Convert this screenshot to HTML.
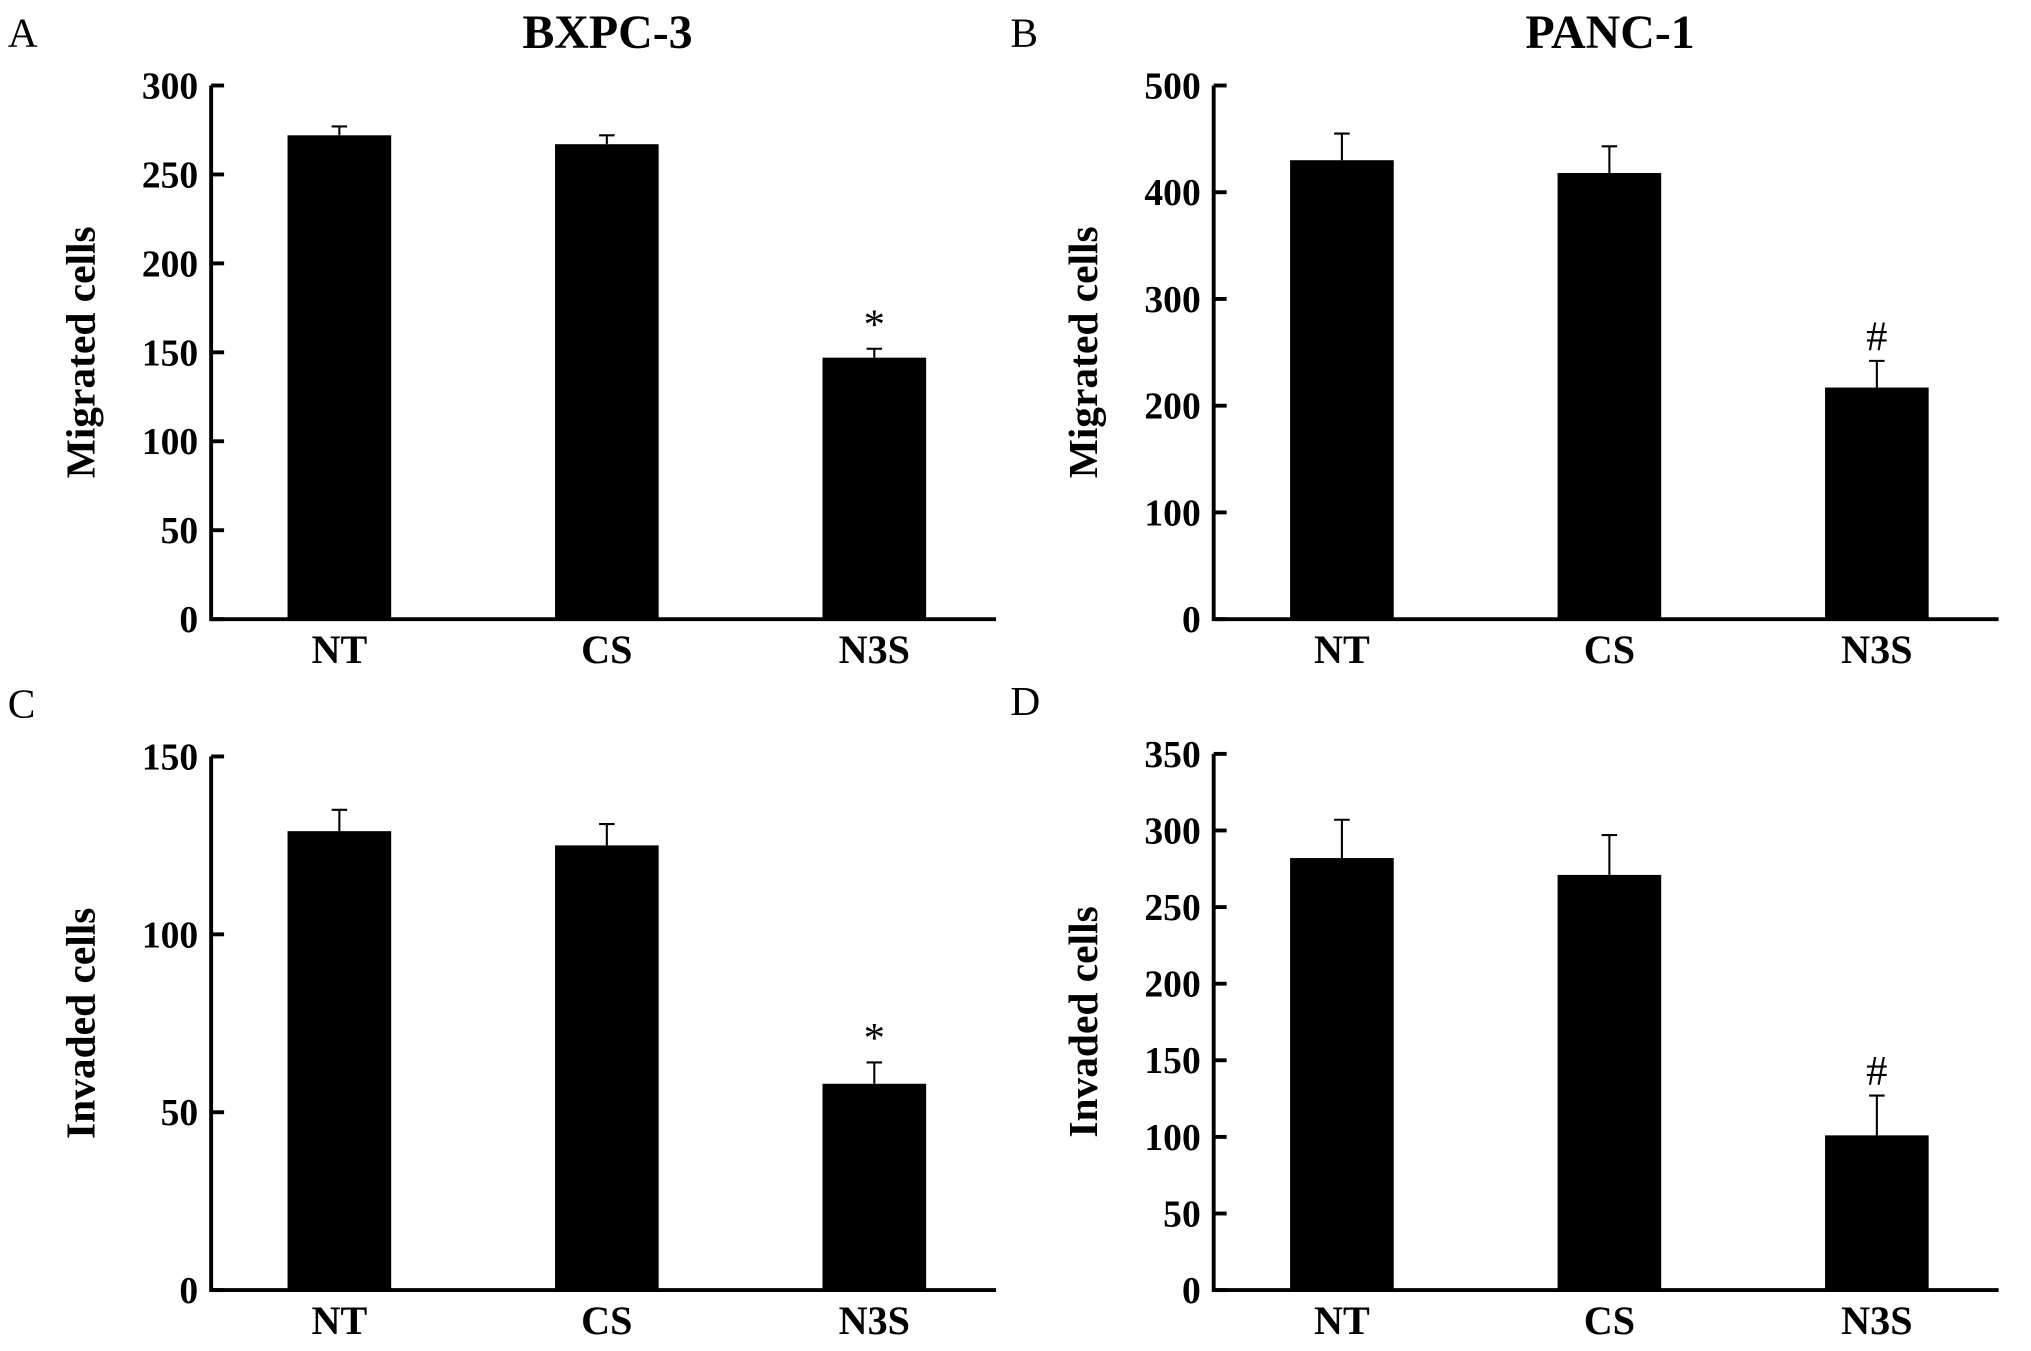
<!DOCTYPE html>
<html><head><meta charset="utf-8"><style>
html,body{margin:0;padding:0;background:#fff}
svg{display:block}
text{font-family:"Liberation Serif",serif;fill:#000}
</style></head><body>
<svg id="fig" width="2031" height="1351" viewBox="0 0 1568 1043">
</svg>
<script>
const categories = ["NT","CS","N3S"];
const valuesA = [272,267,147];
const errorsA = [5,5,5];
const valuesB = [430,418,217];
const errorsB = [25,25,25];
const valuesC = [129,125,58];
const errorsC = [6,6,6];
const valuesD = [282,271,101];
const errorsD = [25,26,26];
const ticksA = [0,50,100,150,200,250,300];
const ticksB = [0,100,200,300,400,500];
const ticksC = [0,50,100,150];
const ticksD = [0,50,100,150,200,250,300,350];
const marksA = ["","","*"];
const marksB = ["","","#"];

const NS="http://www.w3.org/2000/svg";
const svg=document.getElementById('fig');
function mk(tag,attrs,parent,txt){const e=document.createElementNS(NS,tag);for(const k in attrs)e.setAttribute(k,attrs[k]);if(txt!==undefined)e.textContent=txt;(parent||svg).appendChild(e);return e;}

function panel(id,ax,top,bottom,vals,errs,ticks,marks,letter,title,ylabel){
  const g=mk('g',{});
  
  
  const maxV=ticks[ticks.length-1];
  const y=v=>bottom-(v/maxV)*(bottom-top);
  const barW=80, first=ax+59, step=206.5;
  const bx=i=>first+i*step;
  vals.forEach((v,i)=>{
    const r=mk('rect',{x:bx(i),y:y(v),width:barW,height:bottom-y(v),fill:'#000'},g);
    
    
    const cx=bx(i)+barW/2, ye=y(v+errs[i]);
    const e=mk('path',{d:`M${cx} ${y(v)}V${ye}M${cx-6} ${ye}H${cx+6}`,stroke:'#000','stroke-width':1.6,fill:'none'},g);
    
    
    if(marks&&marks[i]){
      const t=mk('text',{x:cx,y:ye-8,'text-anchor':'middle','font-size':33},g,marks[i]);
      
      
    }
    const xl=mk('text',{x:cx,y:bottom+34,'text-anchor':'middle','font-size':31,'font-weight':'bold'},g,categories[i]);
    
    
  });
  const axl=mk('path',{d:`M${ax} ${top}V${bottom}H${ax+606}`,stroke:'#000','stroke-width':3,fill:'none'},g);
  
  
  ticks.forEach(t=>{
    mk('line',{x1:ax,x2:ax+10,y1:y(t),y2:y(t),stroke:'#000','stroke-width':3},g);
    const tl=mk('text',{x:ax-10,y:y(t)+10,'text-anchor':'end','font-size':29,'font-weight':'bold'},g,t);
    
    
  });
  const yl=mk('text',{x:0,y:0,'text-anchor':'middle','font-size':32,'font-weight':'bold',transform:`translate(${ax-90},${(top+bottom)/2}) rotate(-90)`},g,ylabel);
  
  
  const pl=mk('text',{x:ax-157,y:top-30,'font-size':32},g,letter);
  
  
  if(title){
    const tt=mk('text',{x:ax+306,y:top-29,'text-anchor':'middle','font-size':37,'font-weight':'bold'},g,title);
    
    
  }
}
panel('a',163,66,478,valuesA,errorsA,ticksA,marksA,'A','BXPC-3','Migrated cells');
panel('b',937,66,478,valuesB,errorsB,ticksB,marksB,'B','PANC-1','Migrated cells');
panel('c',163,584,996,valuesC,errorsC,ticksC,marksA,'C','','Invaded cells');
panel('d',937,582,996,valuesD,errorsD,ticksD,marksB,'D','','Invaded cells');
</script>
</body></html>
